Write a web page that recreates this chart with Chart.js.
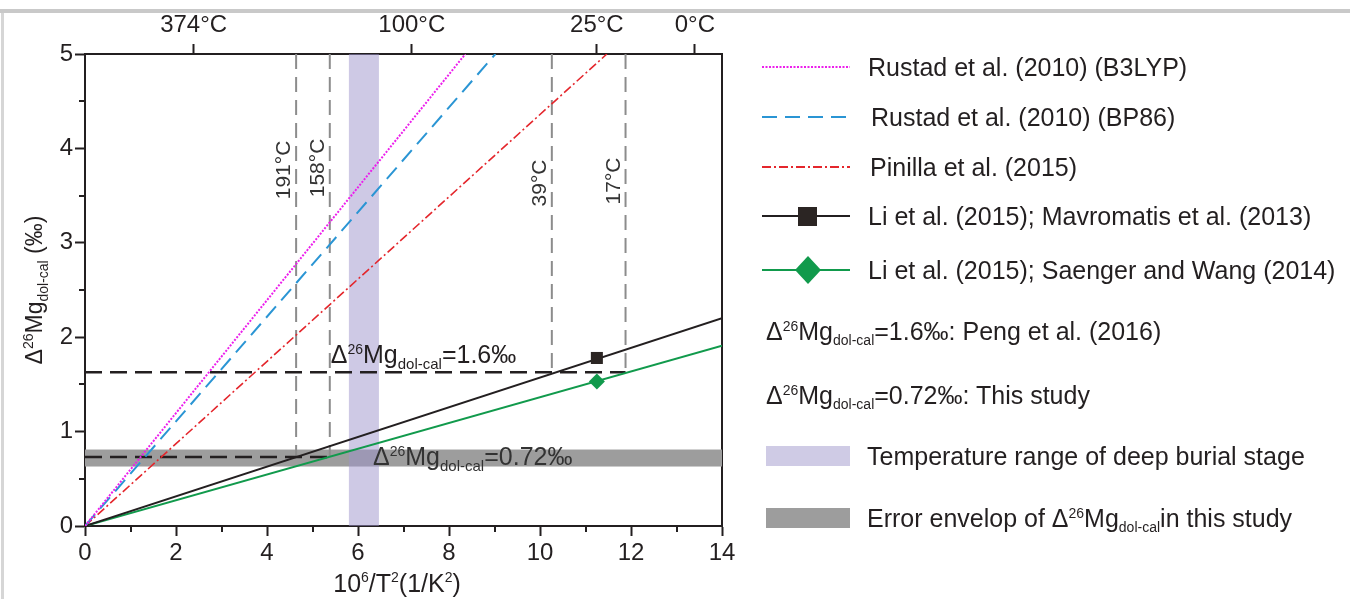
<!DOCTYPE html>
<html>
<head>
<meta charset="utf-8">
<script src="https://cdn.jsdelivr.net/npm/chart.js@4.4.0/dist/chart.umd.min.js"></script>
<style>
  html, body { margin: 0; padding: 0; background: #fff; }
  body { width: 1350px; height: 599px; position: relative; overflow: hidden; font-family: "Liberation Sans", Arial, sans-serif; color: #231f20; }
  #topRule { position: absolute; left: 0; top: 9px; width: 1350px; height: 4px; background: #c9c9c9; }
  #leftRule { position: absolute; left: 1px; top: 13px; width: 3px; height: 586px; background: #d6d6d6; }
  #chart { position: absolute; left: 0; top: 0; }
  .row { position: absolute; left: 760px; height: 40px; display: flex; align-items: center; white-space: nowrap; font-size: 25px; line-height: 40px; }
  .row svg { flex: none; }
  .row sup { font-size: 14px; vertical-align: 9px; line-height: 0; }
  .row sub { font-size: 14px; vertical-align: -5px; line-height: 0; }
</style>
</head>
<body>
<div id="topRule"></div>
<div id="leftRule"></div>
<canvas id="chart" width="1350" height="599"></canvas>
<div id="legend"></div>
<script>
// axes
const xMin = 0, xMax = 14, yMin = 0, yMax = 5;
const xTicks = [0, 2, 4, 6, 8, 10, 12, 14];
const yTicks = [0, 1, 2, 3, 4, 5];
const topTempC = [374, 100, 25, 0];

// series (10^6/T^2, Δ26Mg)
const seriesNames = [
  "Rustad et al. (2010) (B3LYP)",
  "Rustad et al. (2010) (BP86)",
  "Pinilla et al. (2015)",
  "Li et al. (2015); Mavromatis et al. (2013)",
  "Li et al. (2015); Saenger and Wang (2014)"
];
const b3lypX = [0, 8.36], b3lypY = [0, 5];
const bp86X = [0, 9.02], bp86Y = [0, 5];
const pinillaX = [0, 11.47], pinillaY = [0, 5];
const mavroX = [0, 14], mavroY = [0, 2.2];
const saengerX = [0, 14], saengerY = [0, 1.91];
const markerX = [11.25];
const mavroMarkerY = [1.78];
const saengerMarkerY = [1.53];

// reference values
const pengValue = 1.63, pengX = [0, 11.88];
const studyValue = 0.73, studyX = [0, 5.38];
const studyBand = [0.63, 0.81];
const burialBand = [5.80, 6.46];
const tempLineX = [4.64, 5.38, 10.26, 11.88];
const tempLineBottom = [0.73, 0.73, 1.63, 1.63];
const tempLineLabels = ["191°C", "158°C", "39°C", "17°C"];

const C = {
  ink: "#231f20", magenta: "#ec1fec", blue: "#2a95d4", red: "#e4262c",
  green: "#119a4c", grey: "#8c8c8c", band: "#9d9d9d",
  purple: "rgba(158,148,204,0.5)", purpleSolid: "#cfcbe5"
};
const FONT = '"Liberation Sans", Arial, sans-serif';

const pts = (xs, ys) => xs.map((x, i) => ({ x, y: ys[i] }));
const lineDs = (label, xs, ys, color, dash, width) => ({
  label, data: pts(xs, ys), borderColor: color, borderWidth: width, borderDash: dash,
  showLine: true, pointRadius: 0, fill: false, tension: 0, borderCapStyle: "butt"
});

const datasets = [
  { label: "mavro marker", data: pts(markerX, mavroMarkerY), pointStyle: "rect", pointRadius: 8.5,
    backgroundColor: "#2b2523", borderColor: "#2b2523", borderWidth: 0, showLine: false },
  { label: "saenger marker", data: pts(markerX, saengerMarkerY), pointStyle: "rectRot", pointRadius: 8,
    backgroundColor: C.green, borderColor: C.green, borderWidth: 0, showLine: false },
  lineDs(seriesNames[0], b3lypX, b3lypY, C.magenta, [2, 1.5], 2),
  lineDs(seriesNames[1], bp86X, bp86Y, C.blue, [15, 8], 2),
  lineDs(seriesNames[2], pinillaX, pinillaY, C.red, [9, 3, 2, 3], 1.6),
  lineDs(seriesNames[3], mavroX, mavroY, C.ink, [], 2),
  lineDs(seriesNames[4], saengerX, saengerY, C.green, [], 2),
  lineDs("Peng", pengX, [pengValue, pengValue], C.ink, [17, 8], 2.5),
  lineDs("This study", studyX, [studyValue, studyValue], C.ink, [17, 8], 2.5),
  ...tempLineX.map((x, i) => lineDs(tempLineLabels[i], [x, x], [yMax, tempLineBottom[i]], C.grey, [15, 8], 2))
];

function drawRich(ctx, parts, x, y) {
  let cx = x;
  parts.forEach(p => {
    ctx.font = `${p.s}px ${FONT}`;
    ctx.fillText(p.t, cx, y + (p.dy || 0));
    cx += ctx.measureText(p.t).width;
  });
}
function richWidth(ctx, parts) {
  return parts.reduce((w, p) => { ctx.font = `${p.s}px ${FONT}`; return w + ctx.measureText(p.t).width; }, 0);
}
const deltaMg = (b, sp, sb) => [
  { t: "Δ", s: b }, { t: "26", s: sp, dy: -b * 0.38 }, { t: "Mg", s: b }, { t: "dol-cal", s: sb, dy: b * 0.24 }
];

const bandsPlugin = {
  id: "bands",
  beforeDatasetsDraw(chart) {
    const { ctx, chartArea: a, scales: { x, y } } = chart;
    ctx.save();
    const t = y.getPixelForValue(studyBand[1]), b = y.getPixelForValue(studyBand[0]);
    ctx.fillStyle = C.band;
    ctx.fillRect(a.left, t, a.right - a.left, b - t);
    const l = x.getPixelForValue(burialBand[0]), r = x.getPixelForValue(burialBand[1]);
    ctx.fillStyle = C.purple;
    ctx.fillRect(l, a.top, r - l, a.bottom - a.top);
    ctx.restore();
  }
};

const notesPlugin = {
  id: "notes",
  afterDatasetsDraw(chart) {
    const { ctx, scales: { x, y } } = chart;
    ctx.save();
    ctx.textBaseline = "alphabetic";
    ctx.fillStyle = C.ink;
    drawRich(ctx, [...deltaMg(25, 14, 15), { t: "=1.6‰", s: 25 }], x.getPixelForValue(5.4), y.getPixelForValue(pengValue) - 9);
    ctx.fillStyle = "#333";
    drawRich(ctx, [...deltaMg(25, 14, 15), { t: "=0.72‰", s: 25 }], x.getPixelForValue(6.33), y.getPixelForValue(studyValue) + 8);

    // rotated temperature labels
    const mids = [170, 168, 183, 181];
    ctx.fillStyle = "#333";
    ctx.font = `21px ${FONT}`;
    ctx.textAlign = "center";
    tempLineX.forEach((v, i) => {
      ctx.save();
      ctx.translate(x.getPixelForValue(v) - 6, mids[i]);
      ctx.rotate(-Math.PI / 2);
      ctx.fillText(tempLineLabels[i], 0, 0);
      ctx.restore();
    });
    ctx.restore();
  },
  afterDraw(chart) {
    const { ctx, chartArea: a, scales: { x, y } } = chart;
    ctx.save();
    // minor ticks
    ctx.strokeStyle = C.ink;
    ctx.lineWidth = 2;
    ctx.beginPath();
    for (let i = 0; i < xTicks.length - 1; i++) {
      const px = Math.round(x.getPixelForValue((xTicks[i] + xTicks[i + 1]) / 2));
      ctx.moveTo(px, a.bottom); ctx.lineTo(px, a.bottom + 6);
    }
    for (let i = 0; i < yTicks.length - 1; i++) {
      const py = Math.round(y.getPixelForValue((yTicks[i] + yTicks[i + 1]) / 2));
      ctx.moveTo(a.left, py); ctx.lineTo(a.left - 6, py);
    }
    ctx.stroke();

    // axis titles
    ctx.fillStyle = C.ink;
    ctx.textBaseline = "alphabetic";
    const xt = [{ t: "10", s: 25 }, { t: "6", s: 14, dy: -10 }, { t: "/T", s: 25 }, { t: "2", s: 14, dy: -10 },
                { t: "(1/K", s: 25 }, { t: "2", s: 14, dy: -10 }, { t: ")", s: 25 }];
    drawRich(ctx, xt, 397 - richWidth(ctx, xt) / 2, 592);

    const yt = [...deltaMg(23, 14, 14), { t: " (‰)", s: 23 }];
    ctx.translate(42, (a.top + a.bottom) / 2);
    ctx.rotate(-Math.PI / 2);
    drawRich(ctx, yt, -richWidth(ctx, yt) / 2, 0);
    ctx.restore();
  }
};

const axisLook = {
  grid: { drawOnChartArea: false, drawTicks: true, tickLength: 10, tickWidth: 2, tickColor: C.ink, color: C.ink },
  border: { display: true, color: C.ink, width: 2 }
};

new Chart(document.getElementById("chart"), {
  type: "scatter",
  data: { datasets },
  options: {
    responsive: false,
    animation: false,
    events: [],
    layout: { padding: { left: 0, right: 628, top: 0, bottom: 0 } },
    plugins: { legend: { display: false }, tooltip: { enabled: false } },
    scales: {
      x: {
        type: "linear", position: "bottom", min: xMin, max: xMax,
        ticks: { stepSize: 2, font: { family: FONT, size: 24 }, color: C.ink, padding: 3, maxRotation: 0 },
        afterBuildTicks: s => { s.ticks = xTicks.map(v => ({ value: v })); },
        afterFit: s => { s.height = 73; },
        ...axisLook
      },
      x2: {
        type: "linear", position: "top", min: xMin, max: xMax,
        ticks: { font: { family: FONT, size: 24 }, color: C.ink, padding: 4, maxRotation: 0,
                 callback: (v, i) => topTempC[i] + "°C" },
        afterBuildTicks: s => { s.ticks = topTempC.map(t => ({ value: 1e6 / Math.pow(t + 273.15, 2) })); },
        afterFit: s => { s.height = 54; },
        ...axisLook
      },
      y: {
        type: "linear", position: "left", min: yMin, max: yMax,
        ticks: { stepSize: 1, font: { family: FONT, size: 24 }, color: C.ink, padding: 2 },
        afterBuildTicks: s => { s.ticks = yTicks.map(v => ({ value: v })); },
        afterFit: s => { s.width = 85; },
        ...axisLook
      },
      y2: {
        type: "linear", position: "right", min: yMin, max: yMax,
        ticks: { display: false },
        grid: { drawOnChartArea: false, drawTicks: false },
        border: { display: true, color: C.ink, width: 2 },
        afterFit: s => { s.width = 0; }
      }
    }
  },
  plugins: [bandsPlugin, notesPlugin]
});

// legend
const dmHtml = 'Δ<sup>26</sup>Mg<sub>dol-cal</sub>';
const legendRows = [
  { y: 67, svg: `<line x1="2" y1="20" x2="90" y2="20" stroke="${C.magenta}" stroke-width="2" stroke-dasharray="2 1.5"/>`, text: seriesNames[0], gap: 16 },
  { y: 117, svg: `<line x1="2" y1="20" x2="90" y2="20" stroke="${C.blue}" stroke-width="2" stroke-dasharray="15 8"/>`, text: seriesNames[1], gap: 19 },
  { y: 167, svg: `<line x1="2" y1="20" x2="90" y2="20" stroke="${C.red}" stroke-width="2" stroke-dasharray="9 3 2 3"/>`, text: seriesNames[2], gap: 18 },
  { y: 216, svg: `<line x1="2" y1="20" x2="90" y2="20" stroke="${C.ink}" stroke-width="2"/><rect x="38" y="11" width="19" height="19" fill="#2b2523"/>`, text: seriesNames[3], gap: 16 },
  { y: 270, svg: `<line x1="2" y1="20" x2="90" y2="20" stroke="${C.green}" stroke-width="2"/><polygon points="48,6 61,20 48,34 35,20" fill="${C.green}"/>`, text: seriesNames[4], gap: 16 },
  { y: 331, svg: null, text: dmHtml + '=1.6‰: Peng et al. (2016)' },
  { y: 395, svg: null, text: dmHtml + '=0.72‰: This study' },
  { y: 456, svg: `<rect x="6" y="10" width="84" height="20" fill="${C.purpleSolid}"/>`, text: "Temperature range of deep burial stage", gap: 15 },
  { y: 518, svg: `<rect x="6" y="10" width="84" height="20" fill="${C.band}"/>`, text: "Error envelop of " + dmHtml + "in this study", gap: 15 }
];
const legendEl = document.getElementById("legend");
legendRows.forEach(r => {
  const row = document.createElement("div");
  row.className = "row";
  row.style.top = (r.y - 20) + "px";
  if (r.svg) {
    row.innerHTML = `<svg width="92" height="40" style="margin-right:${r.gap}px">${r.svg}</svg><span>${r.text}</span>`;
  } else {
    row.style.left = "766px";
    row.innerHTML = `<span>${r.text}</span>`;
  }
  legendEl.appendChild(row);
});
</script>
</body>
</html>
